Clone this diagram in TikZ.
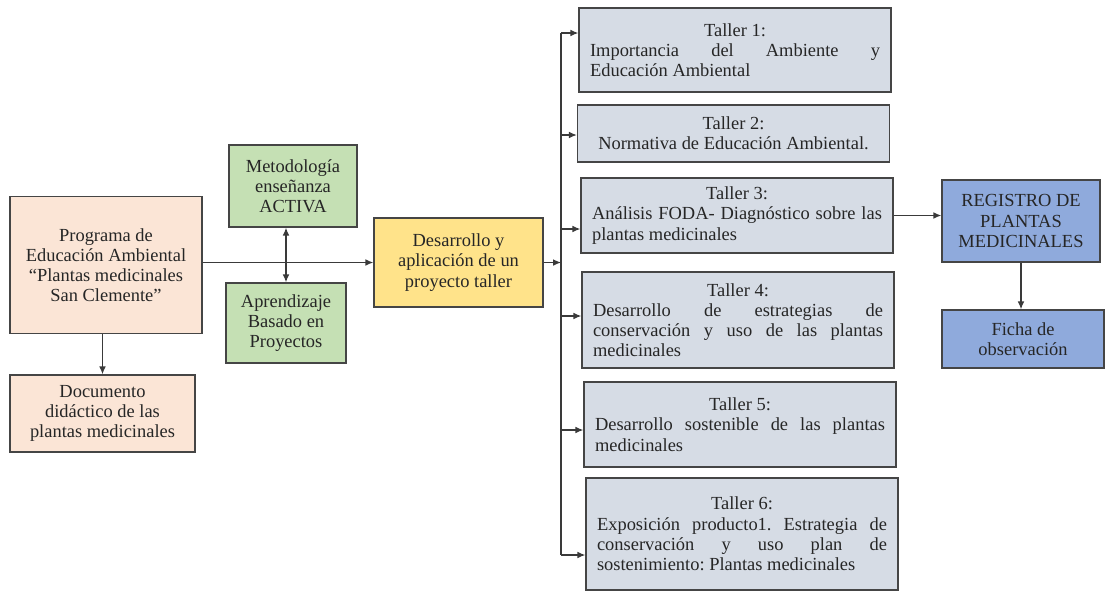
\documentclass[tikz,border=0pt]{standalone}
\usepackage{fontspec}
\setmainfont{Liberation Serif}
\usetikzlibrary{arrows.meta,calc,positioning}
\frenchspacing

\definecolor{peach}{HTML}{FBE5D6}
\definecolor{leaf}{HTML}{C5E0B4}
\definecolor{gold}{HTML}{FFE38A}
\definecolor{slate}{HTML}{D6DCE5}
\definecolor{sky}{HTML}{8FAADC}
\definecolor{boxline}{HTML}{454545}
\definecolor{wire}{HTML}{3A3A3A}
\definecolor{ink}{HTML}{262626}

\begin{document}
\begin{tikzpicture}[x=0.02cm,y=-0.02cm,
    box/.style={draw=boxline, line width=0.8pt, text=ink, align=center,
        inner sep=2pt, font=\fontsize{10.5}{11.5}\selectfont},
    tallerbox/.style={box, fill=slate, minimum width=6.24cm,
        text width=5.8cm, align=justify},
    arr/.style={draw=wire, line width=0.7pt, -{Latex[length=4.5pt,width=3.8pt]}},
    arrboth/.style={arr, {Latex[length=4.5pt,width=3.8pt]}-{Latex[length=4.5pt,width=3.8pt]}}]

    \fill[white] (0,0) rectangle (1105,593);
    \useasboundingbox (0,0) rectangle (1105,593);

    % Left column
    \node[box, fill=peach, minimum width=3.84cm, minimum height=2.74cm]
        (prog) at (106,265) {Programa de\\Educación Ambiental\\“Plantas medicinales\\San Clemente”};
    \node[box, fill=peach, minimum width=3.7cm, minimum height=1.54cm]
        (doc) at (102.5,413.5) {Documento\\didáctico de las\\plantas medicinales};

    % Methodology
    \node[box, fill=leaf, minimum width=2.56cm, minimum height=1.64cm]
        (metodo) at (293,186) {Metodología\\enseñanza\\ACTIVA};
    \node[box, fill=leaf, minimum width=2.4cm, minimum height=1.6cm]
        (aprend) at (286,323) {Aprendizaje\\Basado en\\Proyectos};

    \node[box, fill=gold, minimum width=3.38cm, minimum height=1.78cm]
        (desa) at (458.5,262.5) {Desarrollo y\\aplicación de un\\proyecto taller};

    % Workshops
    \coordinate (bus) at (561,0);
    \foreach \i/\cx/\cy/\h/\dy/\txt in {
        1/735/50/1.68/-17/{Importancia del Ambiente y\linebreak Educación Ambiental},
        2/733.5/133.5/1.14/1.5/{\hfil Normativa de Educación Ambiental.},
        3/737/215.5/1.5/13.5/{Análisis FODA- Diagnóstico sobre las\linebreak plantas medicinales},
        4/738/320/1.92/-4/{Desarrollo de estrategias de\linebreak conservación y uso de las plantas\linebreak medicinales},
        5/740/424.5/1.7/5.5/{Desarrollo sostenible de las plantas\linebreak medicinales},
        6/742/534/2.24/21/{Exposición producto1. Estrategia de\linebreak conservación y uso plan de\linebreak sostenimiento: Plantas medicinales}
    } {
        \node[tallerbox, minimum height=\h cm] (t\i) at (\cx,\cy)
            {{\centering Taller \i:\par}\txt};
        \coordinate (e\i) at ($(t\i.west)+(0,\dy)$);
        \draw[arr] (bus |- e\i) -- (e\i);
    }
    \draw[draw=wire, line width=0.7pt] (bus |- e1) -- (bus |- e6);

    % Register
    \node[box, fill=sky, minimum width=3.16cm, minimum height=1.64cm]
        (reg) at (1021,221) {REGISTRO DE\\PLANTAS\\MEDICINALES};
    \node[box, fill=sky, minimum width=3.24cm, minimum height=1.16cm]
        (ficha) at (1023,339) {Ficha de\\observación};

    % Connectors
    \draw[arr] (prog.east |- desa.west) -- (desa.west);
    \draw[arrboth] (aprend.north) -- (aprend.north |- metodo.south);
    \draw[arr] (prog.south -| doc.north) -- (doc.north);
    \draw[arr] (desa.east) -- (desa.east -| bus);
    \draw[arr] (t3.east) -- (t3.east -| reg.west);
    \draw[arr] (reg.south) -- (reg.south |- ficha.north);
\end{tikzpicture}
\end{document}
